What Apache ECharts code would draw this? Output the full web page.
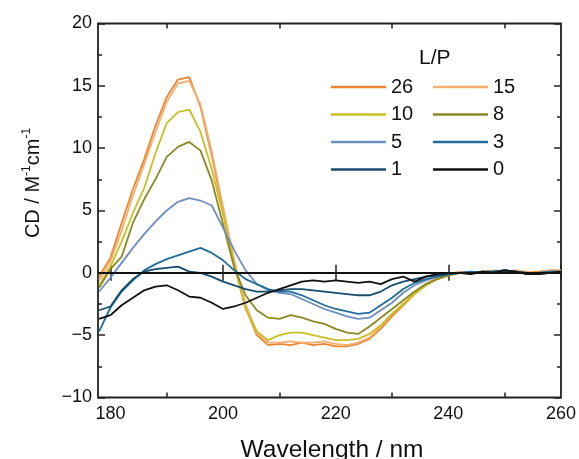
<!DOCTYPE html>
<html>
<head>
<meta charset="utf-8">
<script src="https://cdn.jsdelivr.net/npm/echarts@6/dist/echarts.min.js"></script>
<style>
html,body{margin:0;padding:0;background:#fff;}
#chart{width:579px;height:459px;}
</style>
</head>
<body>
<div id="chart"></div>
<script>
// Wavelength grid (nm)
const wavelengths = [178,180,182,184,186,188,190,192,194,196,198,200,202,204,206,208,210,212,214,216,218,220,222,224,226,228,230,232,234,236,238,240,242,244,246,248,250,252,254,256,258,260];

// CD values (M^-1 cm^-1) for each L/P ratio
const lp26 = [-0.3,1.2,4.0,6.7,9.1,11.8,14.1,15.5,15.7,13.3,9.4,5.0,0.8,-2.8,-5.0,-5.8,-5.7,-5.8,-5.6,-5.8,-5.7,-5.9,-5.9,-5.7,-5.3,-4.5,-3.5,-2.6,-1.7,-1.0,-0.5,-0.2,0.0,0.0,0.1,0.1,0.2,0.1,0.0,0.1,0.2,0.2];
const lp15 = [-0.6,0.9,3.4,6.2,8.7,11.3,13.7,15.2,15.4,13.5,9.7,5.3,1.0,-2.5,-4.8,-5.6,-5.6,-5.5,-5.6,-5.6,-5.5,-5.7,-5.8,-5.6,-5.2,-4.3,-3.3,-2.5,-1.6,-0.9,-0.4,-0.1,0.1,0.0,0.1,0.2,0.1,0.2,0.1,0.0,0.2,0.2];
const lp10 = [-1.0,0.5,2.5,4.8,6.8,9.6,12.0,12.9,13.1,11.3,8.3,4.7,0.6,-2.9,-4.7,-5.4,-5.0,-4.8,-4.8,-5.0,-5.2,-5.4,-5.4,-5.3,-4.9,-4.2,-3.3,-2.5,-1.7,-1.0,-0.5,-0.2,0.0,-0.1,0.1,0.0,0.1,0.1,0.0,-0.1,0.1,0.1];
const lp8  = [-1.2,0.3,1.3,4.0,5.9,7.5,9.3,10.1,10.5,9.8,7.4,3.9,0.4,-1.8,-3.0,-3.6,-3.7,-3.4,-3.6,-3.9,-4.1,-4.5,-4.8,-4.9,-4.3,-3.6,-2.9,-2.2,-1.5,-0.9,-0.5,-0.2,0.0,0.0,0.1,0.1,0.2,0.1,-0.1,0.0,0.1,0.0];
const lp5  = [-1.5,-0.4,0.8,2.0,3.1,4.1,5.0,5.7,6.0,5.8,5.4,3.6,1.8,0.2,-0.9,-1.4,-1.6,-1.7,-2.1,-2.5,-2.9,-3.2,-3.5,-3.7,-3.6,-3.0,-2.4,-1.6,-1.0,-0.6,-0.3,-0.1,0.0,0.1,0.0,0.1,0.2,0.1,0.0,0.0,0.1,0.1];
const lp3  = [-4.7,-2.8,-1.5,-0.6,0.2,0.7,1.1,1.4,1.7,2.0,1.6,1.0,0.2,-0.5,-0.9,-1.3,-1.5,-1.5,-1.8,-2.2,-2.6,-2.9,-3.1,-3.3,-3.2,-2.6,-2.0,-1.3,-0.8,-0.5,-0.3,-0.1,0.0,0.1,0.0,0.1,0.2,0.1,-0.1,0.0,0.1,0.1];
const lp1  = [-3.0,-2.7,-1.4,-0.5,0.1,0.3,0.4,0.5,0.1,0.0,-0.3,-0.7,-1.0,-1.3,-1.5,-1.5,-1.4,-1.3,-1.3,-1.4,-1.5,-1.6,-1.7,-1.8,-1.8,-1.5,-1.0,-0.7,-0.5,-0.3,-0.2,-0.1,0.0,0.0,0.1,0.1,0.2,0.1,0.0,-0.1,0.0,0.1];
const lp0  = [-3.7,-3.4,-2.6,-2.0,-1.4,-1.1,-1.0,-1.4,-1.9,-2.0,-2.4,-2.9,-2.7,-2.4,-2.0,-1.6,-1.3,-1.0,-0.7,-0.6,-0.7,-0.6,-0.7,-0.8,-0.7,-0.9,-0.5,-0.3,-0.7,-0.3,-0.1,0.0,0.0,-0.1,0.1,0.0,0.2,0.1,-0.1,-0.1,0.0,0.1];

const seriesNames = ['26','15','10','8','5','3','1','0'];
const seriesValues = [lp26, lp15, lp10, lp8, lp5, lp3, lp1, lp0];
const seriesColors = ['#EE862F','#F5AE6E','#C9BF22','#8A8A24','#6E8EC2','#206F9B','#184C6F','#111111'];

const xMajorTicks = [180,200,220,240,260];
const xMinorTicks = [190,210,230,250];

const FONT = '"Liberation Sans", Arial, Helvetica, sans-serif';
const chart = echarts.init(document.getElementById('chart'), null, {renderer:'canvas'});

function pairs(vals){ return wavelengths.map((w,i)=>[w, vals[i]]); }

const series = seriesNames.map((n,i)=>({
  name: n,
  type: 'line',
  xAxisIndex: 0,
  yAxisIndex: 0,
  data: pairs(seriesValues[i]),
  showSymbol: false,
  symbol: 'none',
  lineStyle: {color: seriesColors[i], width: 1.8},
  itemStyle: {color: seriesColors[i]},
  z: 2,
  markLine: i === seriesNames.length - 1 ? {
    silent: true,
    symbol: ['none','none'],
    label: {show:false},
    lineStyle: {color:'#111', width:1.8, type:'solid'},
    data: [{yAxis: 0}]
  } : undefined
}));

function xAx(pos, ticks, len, showLabels){
  return {
    type: 'value', position: pos, min: 177.8, max: 260,
    axisLine: {show:false},
    splitLine: {show:false},
    axisTick: {show:true, inside:true, length:len, customValues: ticks, lineStyle:{color:'#222', width:1.5}},
    axisLabel: showLabels ? {show:true, customValues: xMajorTicks, color:'#111', fontSize:18, fontFamily:FONT, margin:8} : {show:false}
  };
}

const option = {
  animation: false,
  backgroundColor: '#fff',
  grid: {left: 98, right: 16.5, top: 23.5, bottom: 61.5, show: true, borderColor: '#222', borderWidth: 1.8, backgroundColor:'transparent'},
  xAxis: [
    xAx('bottom', xMajorTicks, 8, true),
    xAx('top', xMajorTicks, 8, false),
    xAx('bottom', xMinorTicks, 5, false),
    xAx('top', xMinorTicks, 5, false)
  ],
  yAxis: [
    {
      type:'value', position:'left', min:-10, max:20, interval:5,
      axisLine:{show:false}, splitLine:{show:false},
      axisTick:{show:true, inside:true, length:7, lineStyle:{color:'#222', width:1.5}},
      minorTick:{show:true, splitNumber:2, length:4, lineStyle:{color:'#222', width:1.5}},
      axisLabel:{color:'#111', fontSize:18, fontFamily:FONT, margin:6,
        formatter: v => (v < 0 ? '\u2212' + Math.abs(v) : String(v))}
    },
    {
      type:'value', position:'right', min:-10, max:20, interval:5,
      axisLine:{show:false}, splitLine:{show:false},
      axisTick:{show:true, inside:true, length:7, lineStyle:{color:'#222', width:1.5}},
      minorTick:{show:true, splitNumber:2, length:4, lineStyle:{color:'#222', width:1.5}},
      axisLabel:{show:false}
    }
  ],
  legend: [
    {
      data: ['26','10','5','1'], orient:'vertical', left:331, top:77, padding:0,
      icon:'rect', itemWidth:55, itemHeight:2.5, itemGap:7.5,
      textStyle:{color:'#111', fontSize:20, fontFamily:FONT, lineHeight:20}
    },
    {
      data: ['15','8','3','0'], orient:'vertical', left:433, top:77, padding:0,
      icon:'rect', itemWidth:55, itemHeight:2.5, itemGap:7.5,
      textStyle:{color:'#111', fontSize:20, fontFamily:FONT, lineHeight:20}
    }
  ],
  graphic: [
    {
      type:'text', left: 419, top: 48,
      style:{text:'L/P', fill:'#111', font:'21px ' + FONT}
    },
    {
      type:'text', x: 332, y: 450,
      style:{text:'Wavelength / nm', fill:'#111', font:'24.5px ' + FONT, align:'center', verticalAlign:'middle'}
    },
    {
      type:'text', x: 32, y: 183, rotation: Math.PI/2,
      style:{
        text:'{m|CD / M}{s|-1}{m|cm}{s|-1}',
        align:'center', verticalAlign:'middle',
        rich:{
          m:{fontSize:20, fontFamily:FONT, fill:'#111', lineHeight:22, verticalAlign:'bottom'},
          s:{fontSize:12, fontFamily:FONT, fill:'#111', lineHeight:22, verticalAlign:'top'}
        }
      }
    }
  ],
  series: series
};
chart.setOption(option);
</script>
</body>
</html>
